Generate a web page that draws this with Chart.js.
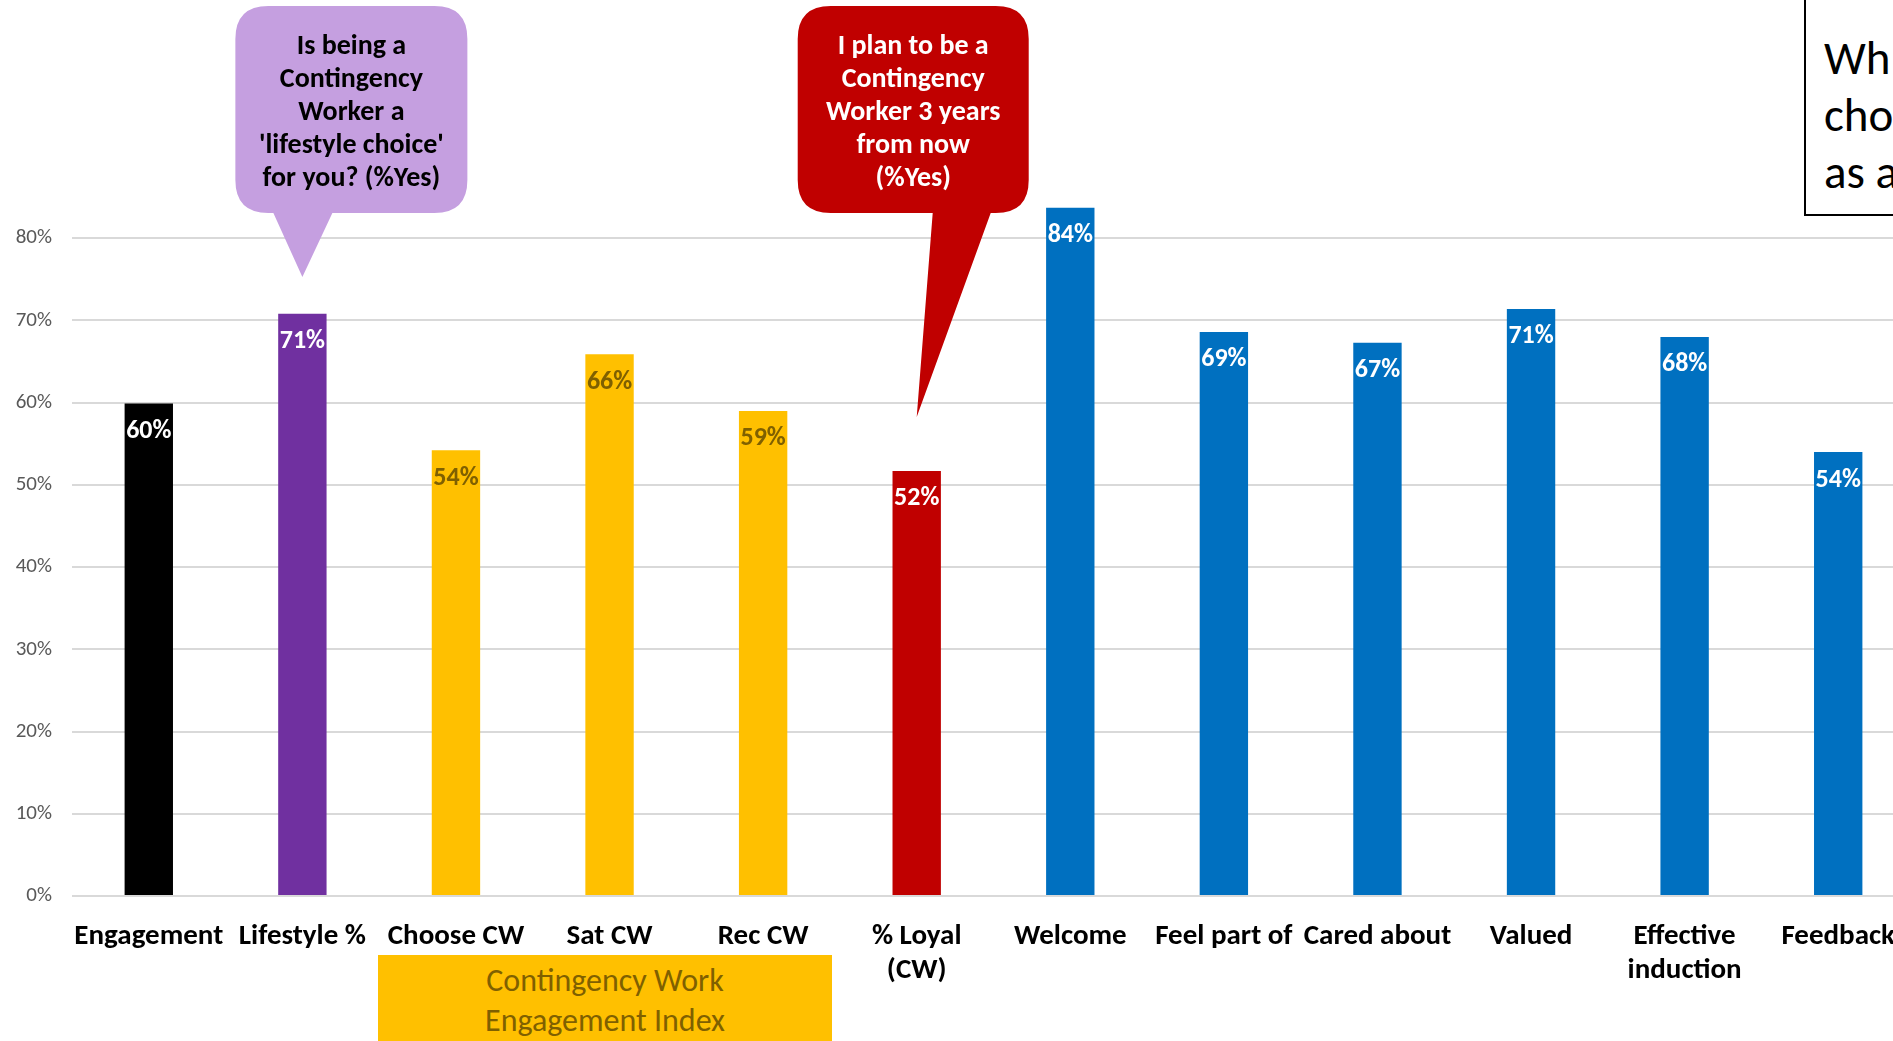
<!DOCTYPE html>
<html>
<head>
<meta charset="utf-8">
<script src="https://cdn.jsdelivr.net/npm/chart.js@4/dist/chart.umd.min.js"></script>
<style>
  html, body { margin: 0; padding: 0; background: #fff; overflow: hidden; }
  body { width: 1893px; height: 1041px; position: relative; }
  #wrap { position: absolute; left: 0; top: 0; width: 1915px; height: 1041px; }
  .index-box {
    position: absolute; left: 378px; top: 955px; width: 454px; height: 100px;
    background: #ffc000; color: #7f6000; text-align: center;
    font: 32px Calibri, Carlito, Lato, sans-serif; line-height: 40px; padding-top: 6px;
    box-sizing: border-box;
  }
  .side-box {
    position: absolute; left: 1804px; top: -4px; width: 400px; height: 220px;
    border: 2px solid #000; background: #fff; box-sizing: border-box;
    padding: 32px 0 0 18px; white-space: nowrap;
    font: 47px Calibri, Carlito, Lato, sans-serif; line-height: 57px; color: #000;
  }
</style>
</head>
<body>
<div id="wrap"><canvas id="chart"></canvas></div>
<div class="index-box">Contingency Work<br>Engagement Index</div>
<div class="side-box">Wh<br>cho<br>as a</div>
<script>
const categories = [
  "Engagement", "Lifestyle %", "Choose CW", "Sat CW", "Rec CW", ["% Loyal", "(CW)"],
  "Welcome", "Feel part of", "Cared about", "Valued", ["Effective", "induction"], "Feedback"
];
const scores = [59.9, 70.8, 54.2, 65.9, 59.0, 51.7, 83.7, 68.6, 67.3, 71.4, 68.0, 54.0];
const barColors = [
  "#000000", "#7030a0", "#ffc000", "#ffc000", "#ffc000", "#c00000",
  "#0070c0", "#0070c0", "#0070c0", "#0070c0", "#0070c0", "#0070c0"
];
const labelColors = [
  "#ffffff", "#ffffff", "#7f6000", "#7f6000", "#7f6000", "#ffffff",
  "#ffffff", "#ffffff", "#ffffff", "#ffffff", "#ffffff", "#ffffff"
];
const yTicks = [0, 10, 20, 30, 40, 50, 60, 70, 80];

const FONT = "Calibri, Carlito, Lato, sans-serif";

// value labels just inside the top of each bar
const barLabels = {
  id: "barLabels",
  afterDatasetsDraw(chart) {
    const { ctx } = chart;
    const meta = chart.getDatasetMeta(0);
    ctx.save();
    ctx.font = `bold 26px ${FONT}`;
    ctx.textAlign = "center";
    ctx.textBaseline = "middle";
    meta.data.forEach((bar, i) => {
      ctx.fillStyle = labelColors[i];
      ctx.fillText(`${Math.round(scores[i])}%`, bar.x, bar.y + 28);
    });
    ctx.restore();
  },
};

// speech-bubble notes pointing at a category
const callouts = [
  { index: 1, fill: "#c59fe0", color: "#000000", left: -67, right: 165, baseL: -29, baseR: 30, tipY: 277,
    lines: ["Is being a", "Contingency", "Worker a", "'lifestyle choice'", "for you? (%Yes)"] },
  { index: 5, fill: "#c00000", color: "#ffffff", left: -119, right: 112, baseL: 16, baseR: 74, tipY: 417,
    lines: ["I plan to be a", "Contingency", "Worker 3 years", "from now", "(%Yes)"] },
];

const calloutPlugin = {
  id: "callouts",
  afterDraw(chart) {
    const { ctx } = chart;
    const xs = chart.scales.x;
    const top = 6, bottom = 213, r = 33;
    callouts.forEach((c) => {
      const cx = xs.getPixelForValue(c.index);
      const l = cx + c.left, rt = cx + c.right;
      ctx.save();
      ctx.fillStyle = c.fill;
      ctx.beginPath();
      ctx.moveTo(l + r, top);
      ctx.lineTo(rt - r, top);
      ctx.quadraticCurveTo(rt, top, rt, top + r);
      ctx.lineTo(rt, bottom - r);
      ctx.quadraticCurveTo(rt, bottom, rt - r, bottom);
      ctx.lineTo(cx + c.baseR, bottom);
      ctx.lineTo(cx, c.tipY);
      ctx.lineTo(cx + c.baseL, bottom);
      ctx.lineTo(l + r, bottom);
      ctx.quadraticCurveTo(l, bottom, l, bottom - r);
      ctx.lineTo(l, top + r);
      ctx.quadraticCurveTo(l, top, l + r, top);
      ctx.closePath();
      ctx.fill();

      ctx.fillStyle = c.color;
      ctx.font = `bold 28px ${FONT}`;
      ctx.textAlign = "center";
      ctx.textBaseline = "middle";
      const mid = (l + rt) / 2;
      c.lines.forEach((line, k) => ctx.fillText(line, mid, 47 + k * 33));
      ctx.restore();
    });
  },
};

new Chart(document.getElementById("chart"), {
  type: "bar",
  data: {
    labels: categories,
    datasets: [{
      data: scores,
      backgroundColor: barColors,
      borderWidth: 0,
      categoryPercentage: 1,
      barPercentage: 0.315,
    }],
  },
  options: {
    responsive: true,
    maintainAspectRatio: false,
    devicePixelRatio: 1,
    animation: false,
    layout: { padding: { top: 156, left: 0, right: 0, bottom: 0 } },
    plugins: { legend: { display: false }, tooltip: { enabled: false } },
    scales: {
      y: {
        min: 0,
        max: 90,
        afterBuildTicks: (scale) => { scale.ticks = yTicks.map((v) => ({ value: v })); },
        afterFit: (scale) => { scale.width = 72; },
        ticks: {
          padding: 20,
          color: "#595959",
          font: { family: FONT, size: 21 },
          callback: (v) => `${v}%`,
        },
        grid: { color: "#d9d9d9", lineWidth: 2, drawTicks: false },
        border: { display: false },
      },
      x: {
        afterFit: (scale) => { scale.height = 145; },
        ticks: {
          padding: 16,
          color: "#000000",
          autoSkip: false,
          maxRotation: 0,
          font: { family: FONT, size: 29, weight: "bold", lineHeight: 1.17 },
        },
        grid: { display: false },
        border: { display: false },
      },
    },
  },
  plugins: [barLabels, calloutPlugin],
});
</script>
</body>
</html>
